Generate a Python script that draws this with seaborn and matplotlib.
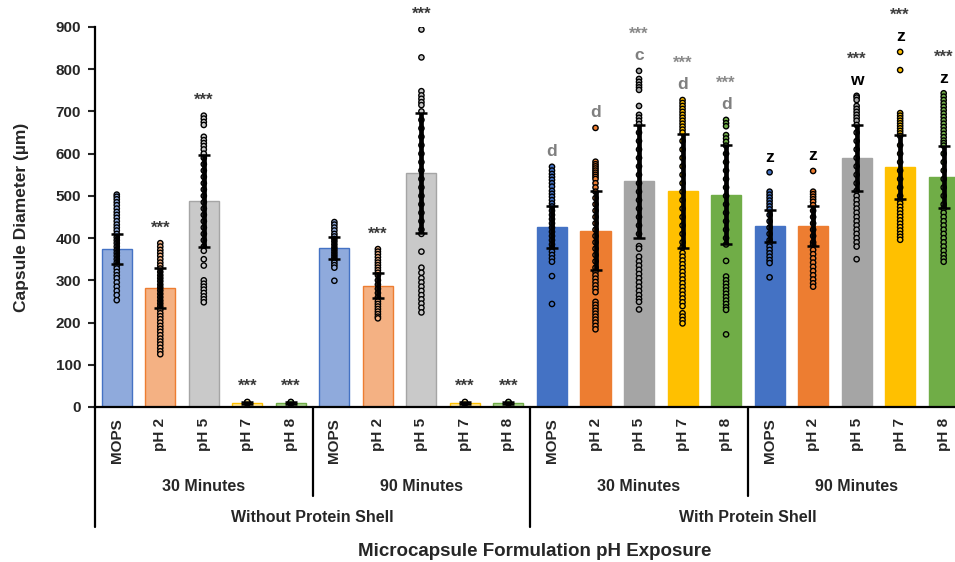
import matplotlib
matplotlib.use("Agg")
import matplotlib.pyplot as plt
import pandas as pd
import seaborn as sns

# etiquetas das barras
ph_labels = ["MOPS", "pH 2", "pH 5", "pH 7", "pH 8"] * 4
time_labels = ["30 Minutes", "90 Minutes", "30 Minutes", "90 Minutes"]
shell_labels = ["Without Protein Shell", "With Protein Shell"]

# médias e desvios
means = [374, 282, 489, 10, 10, 377, 287, 554, 10, 10,
         426, 418, 535, 512, 503, 429, 429, 590, 568, 545]
sds = [36, 48, 109, 3, 3, 26, 30, 142, 3, 3,
       50, 93, 134, 135, 117, 38, 47, 78, 76, 74]

# pontos individuais (sem casca, 30 min)
pts_no_30 = [
    [503, 498, 492, 485, 478, 470, 462, 455, 448, 440, 432, 425, 418, 410, 402, 395, 388, 380,
     372, 365, 358, 350, 342, 335, 328, 320, 312, 305, 295, 285, 275, 265, 253],
    [388, 380, 372, 365, 358, 350, 342, 335, 328, 320, 312, 305, 298, 290, 283, 276, 268, 260,
     252, 245, 238, 230, 222, 215, 208, 200, 192, 185, 178, 170, 162, 155, 148, 140, 132, 125],
    [690, 683, 675, 668, 640, 632, 625, 618, 610, 600, 590, 575, 560, 545, 530, 515, 500, 485,
     470, 455, 440, 425, 410, 395, 380, 370, 350, 335, 300, 292, 285, 278, 270, 262, 255, 248],
    [8, 9, 10, 10, 11, 12],
    [8, 9, 10, 10, 11, 12],
]
# sem casca, 90 min
pts_no_90 = [
    [438, 432, 425, 418, 410, 404, 398, 392, 385, 378, 372, 366, 360, 354, 348, 342, 336, 330, 299],
    [374, 368, 362, 355, 348, 342, 336, 330, 324, 318, 312, 300, 290, 280, 270, 260, 250, 244,
     238, 232, 226, 220, 214, 210],
    [894, 828, 748, 738, 730, 722, 715, 700, 680, 660, 640, 620, 600, 580, 560, 540, 520, 500,
     480, 460, 440, 420, 410, 368, 330, 318, 305, 295, 285, 275, 265, 255, 245, 235, 224],
    [8, 9, 10, 10, 11, 12],
    [8, 9, 10, 10, 11, 12],
]
# com casca, 30 min
pts_sh_30 = [
    [569, 560, 552, 545, 538, 530, 522, 512, 505, 498, 490, 482, 475, 465, 455, 445, 435, 425,
     415, 405, 395, 385, 376, 368, 360, 352, 344, 310, 244],
    [661, 581, 575, 570, 565, 560, 555, 550, 545, 540, 530, 520, 510, 495, 480, 465, 450, 435,
     420, 405, 390, 375, 360, 345, 330, 320, 312, 304, 296, 288, 280, 272, 249, 242, 235, 228,
     221, 214, 207, 200, 192, 184],
    [796, 777, 770, 763, 757, 751, 713, 692, 685, 678, 670, 650, 630, 610, 590, 570, 550, 530,
     510, 490, 470, 450, 430, 410, 381, 375, 356, 345, 335, 325, 315, 305, 295, 285, 275, 265,
     256, 249, 231],
    [727, 720, 713, 706, 699, 692, 685, 678, 671, 664, 657, 650, 630, 610, 590, 570, 550, 530,
     510, 490, 470, 450, 430, 410, 390, 378, 365, 356, 347, 338, 329, 320, 311, 302, 293, 284,
     275, 266, 257, 248, 239, 222, 214, 206, 198],
    [680, 672, 665, 644, 636, 628, 619, 600, 580, 560, 540, 520, 500, 480, 460, 440, 420, 400,
     385, 346, 309, 300, 292, 284, 276, 268, 260, 252, 244, 236, 230, 172],
]
# com casca, 90 min
pts_sh_90 = [
    [556, 510, 503, 496, 489, 482, 475, 468, 455, 440, 425, 410, 395, 388, 380, 372, 364, 356,
     348, 341, 307],
    [559, 510, 504, 498, 492, 486, 478, 465, 450, 435, 420, 405, 390, 384, 372, 362, 352, 342,
     332, 322, 312, 302, 293, 285],
    [737, 733, 727, 713, 706, 699, 692, 685, 678, 668, 650, 630, 610, 590, 570, 550, 530, 512,
     500, 490, 480, 470, 460, 450, 440, 430, 420, 410, 400, 390, 380, 350],
    [841, 798, 696, 690, 684, 678, 672, 666, 660, 654, 648, 642, 620, 600, 580, 560, 540, 520,
     500, 490, 482, 474, 466, 458, 450, 442, 434, 426, 418, 410, 403, 396],
    [743, 735, 727, 719, 711, 703, 695, 687, 679, 671, 663, 655, 647, 639, 631, 625, 619, 600,
     580, 560, 540, 520, 500, 480, 470, 460, 450, 440, 430, 420, 410, 400, 390, 380, 370, 360,
     352, 344],
]

stars = ["", "***", "***", "***", "***", "", "***", "***", "***", "***",
         "", "", "***", "***", "***", "", "", "***", "***", "***"]
letters = [""] * 10 + ["d", "d", "c", "d", "d", "z", "z", "w", "z", "z"]

light = ["#8FAADC", "#F4B183", "#C9C9C9", "#FFE699", "#A9D18E"]
dark = ["#4472C4", "#ED7D31", "#A5A5A5", "#FFC000", "#70AD47"]
fills = light * 2 + dark * 2
edges = dark * 4

pts = pts_no_30 + pts_no_90 + pts_sh_30 + pts_sh_90
ids = [f"b{i}" for i in range(20)]

df_bar = pd.DataFrame({"bar": ids, "mean": means})
df_pts = pd.DataFrame([(ids[i], v) for i in range(20) for v in pts[i]], columns=["bar", "value"])

sns.set_style("ticks")
plt.rcParams["font.family"] = ["Liberation Sans", "DejaVu Sans"]
plt.rcParams["font.weight"] = "bold"

fig = plt.figure(figsize=(9.55, 5.62), dpi=100)
ax = fig.add_axes([95 / 955, 1 - 407 / 562, 860 / 955, 380 / 562])

sns.barplot(data=df_bar, x="bar", y="mean", hue="bar", order=ids, hue_order=ids,
            palette=dict(zip(ids, fills)), width=0.69, saturation=1, legend=False,
            ax=ax, zorder=1)
for patch, ec in zip(ax.patches, edges):
    patch.set_edgecolor(ec)
    patch.set_linewidth(1.0)

sns.stripplot(data=df_pts, x="bar", y="value", hue="bar", order=ids, hue_order=ids,
              palette=dict(zip(ids, fills)), jitter=False, size=3.8, linewidth=1.0,
              edgecolor="black", legend=False, ax=ax, zorder=3)

ax.errorbar(range(20), means, yerr=sds, fmt="none", ecolor="black", elinewidth=3.4,
            capsize=4, capthick=1.8, zorder=4)

# anotações acima dos pontos
for i in range(20):
    top = max(pts[i])
    if i < 10:
        if stars[i]:
            ax.text(i, top + 36, stars[i], ha="center", va="center", fontsize=12,
                    fontweight="bold", color="#3a3a3a")
    else:
        lc = "#7f7f7f" if i < 15 else "black"
        sc = "#8a8a8a" if i < 15 else "#404040"
        ax.text(i, top + 36, letters[i], ha="center", va="center", fontsize=12.5,
                fontweight="bold", color=lc)
        if stars[i]:
            ax.text(i, top + 86, stars[i], ha="center", va="center", fontsize=12,
                    fontweight="bold", color=sc)

ax.set_xlim(-0.5, 19.26)
ax.set_ylim(0, 900)
ax.set_yticks(range(0, 901, 100))
ax.set_xticks(range(20))
ax.set_xticklabels(ph_labels, rotation=90, fontsize=11, fontweight="bold")
ax.tick_params(axis="x", length=0, pad=8)
ax.tick_params(axis="y", length=5, width=1.5, pad=5, labelsize=11)
for lab in ax.get_yticklabels():
    lab.set_fontweight("bold")
ax.set_xlabel("")
ax.set_ylabel("")
sns.despine(ax=ax)
for s in ["left", "bottom"]:
    ax.spines[s].set_linewidth(1.6)
    ax.spines[s].set_color("black")

# linhas divisórias e rótulos de grupo
tr = ax.get_xaxis_transform()
for x, y0 in [(-0.5, -0.316), (4.5, -0.234), (9.5, -0.316), (14.5, -0.234)]:
    ax.plot([x, x], [0, y0], color="black", lw=1.6, transform=tr, clip_on=False)
for k, t in enumerate(time_labels):
    ax.text(2 + 5 * k, -0.21, t, ha="center", va="center", fontsize=11.5,
            fontweight="bold", transform=tr)
for k, t in enumerate(shell_labels):
    ax.text(4.5 + 10 * k, -0.292, t, ha="center", va="center", fontsize=11.5,
            fontweight="bold", transform=tr)

fig.text(22 / 955, 1 - 217 / 562, "Capsule Diameter (µm)", rotation=90, ha="center",
         va="center", fontsize=12.5, fontweight="bold")
fig.text(535 / 955, 1 - 552 / 562, "Microcapsule Formulation pH Exposure", ha="center",
         va="center", fontsize=13.5, fontweight="bold")

fig.savefig("out.png", dpi=100)
